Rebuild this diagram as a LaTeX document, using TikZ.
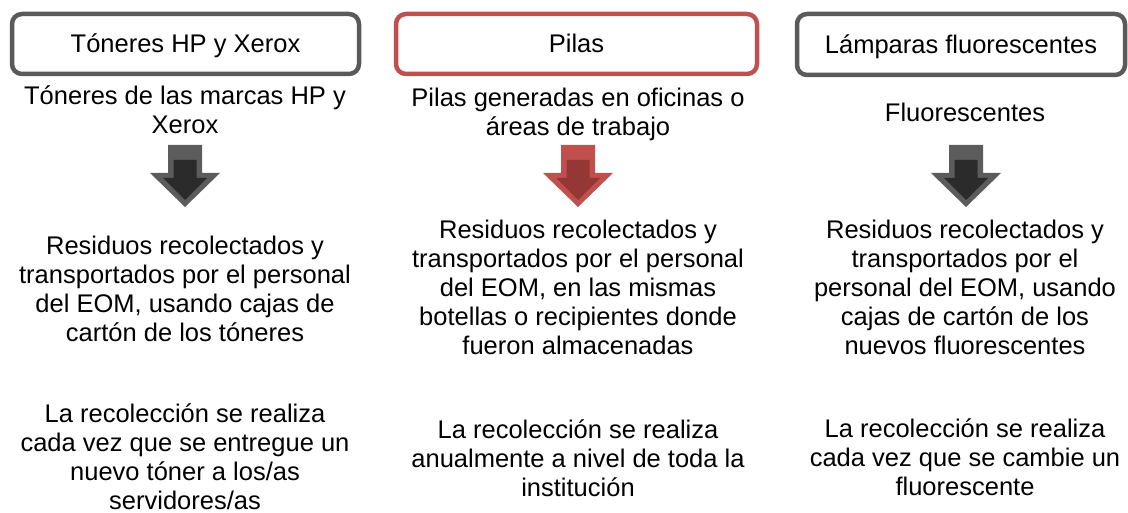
\documentclass[tikz,border=0pt]{standalone}
\usepackage{fontspec}
\setmainfont{Liberation Sans}
\definecolor{gborder}{HTML}{5A5A5A}
\definecolor{rborder}{HTML}{C0504D}
\definecolor{gout}{HTML}{5C5C5C}
\definecolor{gin}{HTML}{2B2B2B}
\definecolor{rout}{HTML}{C0504D}
\definecolor{rin}{HTML}{953735}
\newcommand\flowarrow[3]{%
  \begin{scope}[shift={(#1,0)}]
    \fill[#2] (-17,145) -- (17,145) -- (17,173) -- (35,173) -- (0,207) -- (-35,173) -- (-17,173) -- cycle;
    \fill[#3] (-11.5,160) -- (11.5,160) -- (11.5,178) -- (22,178) -- (0,200) -- (-22,178) -- (-11.5,178) -- cycle;
  \end{scope}}
\begin{document}
\begin{tikzpicture}[x=1pt,y=-1pt,
  txt/.style={anchor=base, inner sep=0pt, font=\fontsize{25.5}{29}\selectfont},
  hdr/.style={draw=#1, line width=4.5pt, rounded corners=10pt, fill=white, inner sep=0pt,
     text height=24pt, text depth=6pt, font=\fontsize{25.5}{29}\selectfont}]
\useasboundingbox (0,0) rectangle (1128,513);
% headers
\node[hdr=gborder, minimum width=347pt, minimum height=60pt] (h1) at (185.5,44) {Tóneres HP y Xerox};
\node[hdr=rborder, minimum width=361pt, minimum height=60pt] (h2) at (576.5,44) {Pilas};
\node[hdr=gborder, minimum width=328pt, minimum height=61pt] (h3) at (961,44.5) {Lámparas fluorescentes};
% column 1
\node[txt] (a1) at (185,105) {\begin{tabular}[t]{@{}c@{}}Tóneres de las marcas HP y\\Xerox\end{tabular}};
\flowarrow{185}{gout}{gin}
\node[txt] (a2) at (185,255) {\begin{tabular}[t]{@{}c@{}}Residuos recolectados y\\transportados por el personal\\del EOM, usando cajas de\\cartón de los tóneres\end{tabular}};
\node[txt] (a3) at (185,422) {\begin{tabular}[t]{@{}c@{}}La recolección se realiza\\cada vez que se entregue un\\nuevo tóner a los/as\\servidores/as\end{tabular}};
% column 2
\node[txt] (b1) at (578,107) {\begin{tabular}[t]{@{}c@{}}Pilas generadas en oficinas o\\áreas de trabajo\end{tabular}};
\flowarrow{578}{rout}{rin}
\node[txt] (b2) at (578,239) {\begin{tabular}[t]{@{}c@{}}Residuos recolectados y\\transportados por el personal\\del EOM, en las mismas\\botellas o recipientes donde\\fueron almacenadas\end{tabular}};
\node[txt] (b3) at (578,438) {\begin{tabular}[t]{@{}c@{}}La recolección se realiza\\anualmente a nivel de toda la\\institución\end{tabular}};
% column 3
\node[txt] (c1) at (965,122) {Fluorescentes};
\flowarrow{966}{gout}{gin}
\node[txt] (c2) at (965,239) {\begin{tabular}[t]{@{}c@{}}Residuos recolectados y\\transportados por el\\personal del EOM, usando\\cajas de cartón de los\\nuevos fluorescentes\end{tabular}};
\node[txt] (c3) at (965,437) {\begin{tabular}[t]{@{}c@{}}La recolección se realiza\\cada vez que se cambie un\\fluorescente\end{tabular}};
\end{tikzpicture}
\end{document}
